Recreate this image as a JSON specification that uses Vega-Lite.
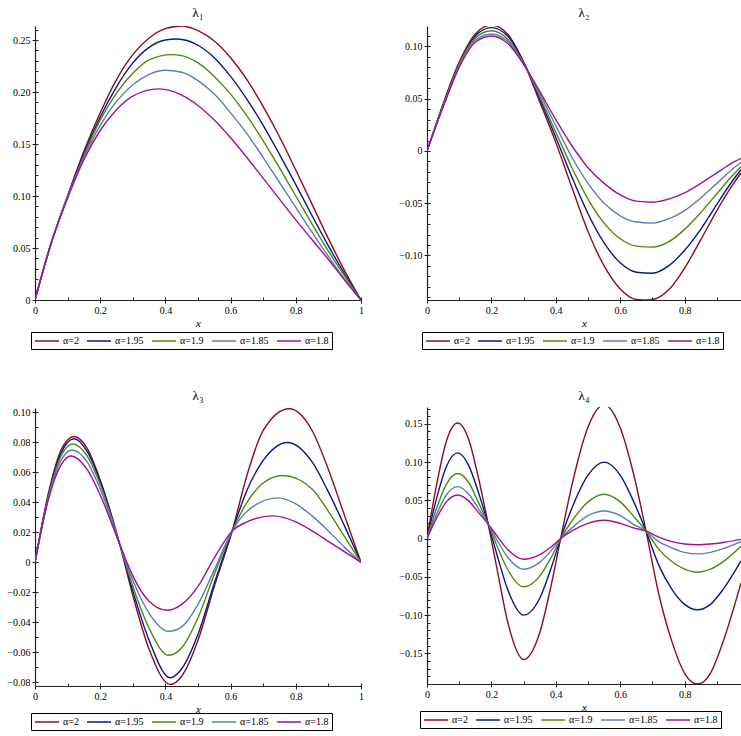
{
  "$schema": "https://vega.github.io/schema/vega-lite/v6.json",
  "padding": {"left": 6, "top": 7, "right": 0, "bottom": 0},
  "background": "white",
  "config": {
    "view": {"stroke": null},
    "font": "Liberation Serif",
    "axis": {"minExtent": 0, "labelFont": "Liberation Serif", "labelFontSize": 10, "labelColor": "black", "domainColor": "#222", "tickColor": "#222", "grid": false, "titleFont": "Liberation Serif", "titleColor": "black"},
    "axisX": {"minExtent": 0},
    "axisY": {"minExtent": 0},
    "title": {"font": "Liberation Serif", "fontSize": 13, "fontWeight": "normal", "color": "black", "offset": 6},
    "legend": {"orient": "none", "direction": "horizontal", "columns": 5, "title": null, "symbolType": "M-1,0H3.8", "symbolSize": 100, "symbolStrokeWidth": 1.5, "labelFont": "Liberation Serif", "labelFontSize": 10, "labelColor": "black", "strokeColor": "black", "fillColor": "white", "padding": 3, "columnPadding": 5, "labelOffset": 17}
  },
  "datasets": {
    "p1": [
      {"a":"2","x":0,"y":0},{"a":"2","x":0.05,"y":0.055},{"a":"2","x":0.1,"y":0.1},{"a":"2","x":0.15,"y":0.143},{"a":"2","x":0.2,"y":0.18},{"a":"2","x":0.25,"y":0.212},{"a":"2","x":0.3,"y":0.236},{"a":"2","x":0.35,"y":0.252},{"a":"2","x":0.4,"y":0.261},{"a":"2","x":0.45,"y":0.2635},{"a":"2","x":0.5,"y":0.259},{"a":"2","x":0.55,"y":0.249},{"a":"2","x":0.6,"y":0.233},{"a":"2","x":0.65,"y":0.212},{"a":"2","x":0.7,"y":0.186},{"a":"2","x":0.75,"y":0.157},{"a":"2","x":0.8,"y":0.125},{"a":"2","x":0.85,"y":0.092},{"a":"2","x":0.9,"y":0.059},{"a":"2","x":0.95,"y":0.028},{"a":"2","x":1,"y":0},
      {"a":"1.95","x":0,"y":0},{"a":"1.95","x":0.05,"y":0.055},{"a":"1.95","x":0.1,"y":0.1},{"a":"1.95","x":0.15,"y":0.141},{"a":"1.95","x":0.2,"y":0.176},{"a":"1.95","x":0.25,"y":0.205},{"a":"1.95","x":0.3,"y":0.228},{"a":"1.95","x":0.35,"y":0.243},{"a":"1.95","x":0.4,"y":0.25},{"a":"1.95","x":0.435,"y":0.251},{"a":"1.95","x":0.5,"y":0.245},{"a":"1.95","x":0.55,"y":0.233},{"a":"1.95","x":0.6,"y":0.215},{"a":"1.95","x":0.65,"y":0.193},{"a":"1.95","x":0.7,"y":0.168},{"a":"1.95","x":0.75,"y":0.14},{"a":"1.95","x":0.8,"y":0.111},{"a":"1.95","x":0.85,"y":0.081},{"a":"1.95","x":0.9,"y":0.052},{"a":"1.95","x":0.95,"y":0.025},{"a":"1.95","x":1,"y":0},
      {"a":"1.9","x":0,"y":0},{"a":"1.9","x":0.05,"y":0.055},{"a":"1.9","x":0.1,"y":0.099},{"a":"1.9","x":0.15,"y":0.139},{"a":"1.9","x":0.2,"y":0.173},{"a":"1.9","x":0.25,"y":0.199},{"a":"1.9","x":0.3,"y":0.218},{"a":"1.9","x":0.35,"y":0.231},{"a":"1.9","x":0.42,"y":0.236},{"a":"1.9","x":0.45,"y":0.235},{"a":"1.9","x":0.5,"y":0.228},{"a":"1.9","x":0.55,"y":0.215},{"a":"1.9","x":0.6,"y":0.198},{"a":"1.9","x":0.65,"y":0.177},{"a":"1.9","x":0.7,"y":0.153},{"a":"1.9","x":0.75,"y":0.127},{"a":"1.9","x":0.8,"y":0.1},{"a":"1.9","x":0.85,"y":0.073},{"a":"1.9","x":0.9,"y":0.047},{"a":"1.9","x":0.95,"y":0.023},{"a":"1.9","x":1,"y":0},
      {"a":"1.85","x":0,"y":0},{"a":"1.85","x":0.05,"y":0.055},{"a":"1.85","x":0.1,"y":0.099},{"a":"1.85","x":0.15,"y":0.137},{"a":"1.85","x":0.2,"y":0.168},{"a":"1.85","x":0.25,"y":0.191},{"a":"1.85","x":0.3,"y":0.207},{"a":"1.85","x":0.35,"y":0.217},{"a":"1.85","x":0.4,"y":0.221},{"a":"1.85","x":0.45,"y":0.219},{"a":"1.85","x":0.5,"y":0.211},{"a":"1.85","x":0.55,"y":0.198},{"a":"1.85","x":0.6,"y":0.18},{"a":"1.85","x":0.65,"y":0.16},{"a":"1.85","x":0.7,"y":0.137},{"a":"1.85","x":0.75,"y":0.113},{"a":"1.85","x":0.8,"y":0.089},{"a":"1.85","x":0.85,"y":0.065},{"a":"1.85","x":0.9,"y":0.042},{"a":"1.85","x":0.95,"y":0.02},{"a":"1.85","x":1,"y":0},
      {"a":"1.8","x":0,"y":0},{"a":"1.8","x":0.05,"y":0.055},{"a":"1.8","x":0.1,"y":0.098},{"a":"1.8","x":0.15,"y":0.135},{"a":"1.8","x":0.2,"y":0.163},{"a":"1.8","x":0.25,"y":0.183},{"a":"1.8","x":0.3,"y":0.196},{"a":"1.8","x":0.38,"y":0.203},{"a":"1.8","x":0.45,"y":0.197},{"a":"1.8","x":0.5,"y":0.187},{"a":"1.8","x":0.55,"y":0.173},{"a":"1.8","x":0.6,"y":0.156},{"a":"1.8","x":0.65,"y":0.137},{"a":"1.8","x":0.7,"y":0.117},{"a":"1.8","x":0.75,"y":0.097},{"a":"1.8","x":0.8,"y":0.077},{"a":"1.8","x":0.85,"y":0.058},{"a":"1.8","x":0.9,"y":0.039},{"a":"1.8","x":0.95,"y":0.019},{"a":"1.8","x":1,"y":0}
    ],
    "p2": [
      {"a":"2","x":0,"y":0},{"a":"2","x":0.05,"y":0.045},{"a":"2","x":0.1,"y":0.085},{"a":"2","x":0.15,"y":0.112},{"a":"2","x":0.2,"y":0.1205},{"a":"2","x":0.25,"y":0.112},{"a":"2","x":0.3,"y":0.085},{"a":"2","x":0.35,"y":0.047},{"a":"2","x":0.4,"y":0.008},{"a":"2","x":0.45,"y":-0.035},{"a":"2","x":0.5,"y":-0.077},{"a":"2","x":0.55,"y":-0.11},{"a":"2","x":0.6,"y":-0.132},{"a":"2","x":0.65,"y":-0.142},{"a":"2","x":0.69,"y":-0.1425},{"a":"2","x":0.75,"y":-0.133},{"a":"2","x":0.8,"y":-0.112},{"a":"2","x":0.85,"y":-0.085},{"a":"2","x":0.9,"y":-0.057},{"a":"2","x":0.95,"y":-0.032},{"a":"2","x":0.975,"y":-0.021},
      {"a":"1.95","x":0,"y":0},{"a":"1.95","x":0.05,"y":0.044},{"a":"1.95","x":0.1,"y":0.084},{"a":"1.95","x":0.15,"y":0.11},{"a":"1.95","x":0.2,"y":0.118},{"a":"1.95","x":0.25,"y":0.11},{"a":"1.95","x":0.3,"y":0.085},{"a":"1.95","x":0.35,"y":0.05},{"a":"1.95","x":0.4,"y":0.013},{"a":"1.95","x":0.45,"y":-0.025},{"a":"1.95","x":0.5,"y":-0.06},{"a":"1.95","x":0.55,"y":-0.088},{"a":"1.95","x":0.6,"y":-0.107},{"a":"1.95","x":0.65,"y":-0.116},{"a":"1.95","x":0.7,"y":-0.117},{"a":"1.95","x":0.75,"y":-0.11},{"a":"1.95","x":0.8,"y":-0.095},{"a":"1.95","x":0.85,"y":-0.075},{"a":"1.95","x":0.9,"y":-0.051},{"a":"1.95","x":0.95,"y":-0.028},{"a":"1.95","x":0.975,"y":-0.018},
      {"a":"1.9","x":0,"y":0},{"a":"1.9","x":0.05,"y":0.043},{"a":"1.9","x":0.1,"y":0.083},{"a":"1.9","x":0.15,"y":0.108},{"a":"1.9","x":0.2,"y":0.115},{"a":"1.9","x":0.25,"y":0.107},{"a":"1.9","x":0.3,"y":0.084},{"a":"1.9","x":0.35,"y":0.052},{"a":"1.9","x":0.4,"y":0.018},{"a":"1.9","x":0.45,"y":-0.016},{"a":"1.9","x":0.5,"y":-0.046},{"a":"1.9","x":0.55,"y":-0.069},{"a":"1.9","x":0.6,"y":-0.084},{"a":"1.9","x":0.65,"y":-0.091},{"a":"1.9","x":0.7,"y":-0.092},{"a":"1.9","x":0.75,"y":-0.087},{"a":"1.9","x":0.8,"y":-0.075},{"a":"1.9","x":0.85,"y":-0.059},{"a":"1.9","x":0.9,"y":-0.041},{"a":"1.9","x":0.95,"y":-0.023},{"a":"1.9","x":0.975,"y":-0.015},
      {"a":"1.85","x":0,"y":0},{"a":"1.85","x":0.05,"y":0.043},{"a":"1.85","x":0.1,"y":0.081},{"a":"1.85","x":0.15,"y":0.106},{"a":"1.85","x":0.2,"y":0.112},{"a":"1.85","x":0.25,"y":0.105},{"a":"1.85","x":0.3,"y":0.083},{"a":"1.85","x":0.35,"y":0.055},{"a":"1.85","x":0.4,"y":0.024},{"a":"1.85","x":0.45,"y":-0.006},{"a":"1.85","x":0.5,"y":-0.031},{"a":"1.85","x":0.55,"y":-0.05},{"a":"1.85","x":0.6,"y":-0.062},{"a":"1.85","x":0.65,"y":-0.068},{"a":"1.85","x":0.7,"y":-0.069},{"a":"1.85","x":0.75,"y":-0.065},{"a":"1.85","x":0.8,"y":-0.057},{"a":"1.85","x":0.85,"y":-0.045},{"a":"1.85","x":0.9,"y":-0.031},{"a":"1.85","x":0.95,"y":-0.017},{"a":"1.85","x":0.975,"y":-0.011},
      {"a":"1.8","x":0,"y":0},{"a":"1.8","x":0.05,"y":0.042},{"a":"1.8","x":0.1,"y":0.08},{"a":"1.8","x":0.15,"y":0.104},{"a":"1.8","x":0.2,"y":0.11},{"a":"1.8","x":0.25,"y":0.103},{"a":"1.8","x":0.3,"y":0.083},{"a":"1.8","x":0.35,"y":0.057},{"a":"1.8","x":0.4,"y":0.03},{"a":"1.8","x":0.45,"y":0.005},{"a":"1.8","x":0.5,"y":-0.016},{"a":"1.8","x":0.55,"y":-0.031},{"a":"1.8","x":0.6,"y":-0.042},{"a":"1.8","x":0.65,"y":-0.048},{"a":"1.8","x":0.7,"y":-0.049},{"a":"1.8","x":0.75,"y":-0.046},{"a":"1.8","x":0.8,"y":-0.04},{"a":"1.8","x":0.85,"y":-0.031},{"a":"1.8","x":0.9,"y":-0.021},{"a":"1.8","x":0.95,"y":-0.011},{"a":"1.8","x":0.975,"y":-0.007}
    ],
    "p3": [
      {"a":"2","x":0,"y":0},{"a":"2","x":0.04,"y":0.045},{"a":"2","x":0.08,"y":0.075},{"a":"2","x":0.12,"y":0.084},{"a":"2","x":0.16,"y":0.076},{"a":"2","x":0.2,"y":0.055},{"a":"2","x":0.26,"y":0.012},{"a":"2","x":0.3,"y":-0.022},{"a":"2","x":0.35,"y":-0.058},{"a":"2","x":0.415,"y":-0.0815},{"a":"2","x":0.45,"y":-0.076},{"a":"2","x":0.5,"y":-0.052},{"a":"2","x":0.55,"y":-0.016},{"a":"2","x":0.605,"y":0.021},{"a":"2","x":0.65,"y":0.058},{"a":"2","x":0.7,"y":0.088},{"a":"2","x":0.78,"y":0.1025},{"a":"2","x":0.85,"y":0.088},{"a":"2","x":0.9,"y":0.062},{"a":"2","x":0.95,"y":0.031},{"a":"2","x":1,"y":0},
      {"a":"1.95","x":0,"y":0},{"a":"1.95","x":0.04,"y":0.044},{"a":"1.95","x":0.08,"y":0.073},{"a":"1.95","x":0.12,"y":0.0825},{"a":"1.95","x":0.16,"y":0.074},{"a":"1.95","x":0.2,"y":0.054},{"a":"1.95","x":0.26,"y":0.012},{"a":"1.95","x":0.3,"y":-0.019},{"a":"1.95","x":0.35,"y":-0.052},{"a":"1.95","x":0.415,"y":-0.077},{"a":"1.95","x":0.45,"y":-0.071},{"a":"1.95","x":0.5,"y":-0.048},{"a":"1.95","x":0.55,"y":-0.014},{"a":"1.95","x":0.605,"y":0.021},{"a":"1.95","x":0.65,"y":0.048},{"a":"1.95","x":0.7,"y":0.068},{"a":"1.95","x":0.775,"y":0.08},{"a":"1.95","x":0.85,"y":0.067},{"a":"1.95","x":0.9,"y":0.047},{"a":"1.95","x":0.95,"y":0.024},{"a":"1.95","x":1,"y":0},
      {"a":"1.9","x":0,"y":0},{"a":"1.9","x":0.04,"y":0.043},{"a":"1.9","x":0.08,"y":0.071},{"a":"1.9","x":0.115,"y":0.079},{"a":"1.9","x":0.16,"y":0.071},{"a":"1.9","x":0.2,"y":0.052},{"a":"1.9","x":0.26,"y":0.012},{"a":"1.9","x":0.3,"y":-0.016},{"a":"1.9","x":0.35,"y":-0.044},{"a":"1.9","x":0.41,"y":-0.062},{"a":"1.9","x":0.45,"y":-0.057},{"a":"1.9","x":0.5,"y":-0.037},{"a":"1.9","x":0.55,"y":-0.008},{"a":"1.9","x":0.605,"y":0.021},{"a":"1.9","x":0.65,"y":0.04},{"a":"1.9","x":0.7,"y":0.053},{"a":"1.9","x":0.76,"y":0.058},{"a":"1.9","x":0.85,"y":0.049},{"a":"1.9","x":0.9,"y":0.034},{"a":"1.9","x":0.95,"y":0.017},{"a":"1.9","x":1,"y":0},
      {"a":"1.85","x":0,"y":0},{"a":"1.85","x":0.04,"y":0.042},{"a":"1.85","x":0.08,"y":0.068},{"a":"1.85","x":0.113,"y":0.075},{"a":"1.85","x":0.16,"y":0.067},{"a":"1.85","x":0.2,"y":0.049},{"a":"1.85","x":0.26,"y":0.012},{"a":"1.85","x":0.3,"y":-0.012},{"a":"1.85","x":0.35,"y":-0.034},{"a":"1.85","x":0.41,"y":-0.046},{"a":"1.85","x":0.45,"y":-0.043},{"a":"1.85","x":0.5,"y":-0.028},{"a":"1.85","x":0.55,"y":-0.005},{"a":"1.85","x":0.605,"y":0.021},{"a":"1.85","x":0.65,"y":0.034},{"a":"1.85","x":0.745,"y":0.043},{"a":"1.85","x":0.8,"y":0.039},{"a":"1.85","x":0.85,"y":0.031},{"a":"1.85","x":0.9,"y":0.021},{"a":"1.85","x":0.95,"y":0.01},{"a":"1.85","x":1,"y":0},
      {"a":"1.8","x":0,"y":0},{"a":"1.8","x":0.04,"y":0.041},{"a":"1.8","x":0.08,"y":0.065},{"a":"1.8","x":0.11,"y":0.071},{"a":"1.8","x":0.16,"y":0.062},{"a":"1.8","x":0.2,"y":0.045},{"a":"1.8","x":0.26,"y":0.012},{"a":"1.8","x":0.3,"y":-0.009},{"a":"1.8","x":0.35,"y":-0.026},{"a":"1.8","x":0.405,"y":-0.032},{"a":"1.8","x":0.45,"y":-0.028},{"a":"1.8","x":0.5,"y":-0.016},{"a":"1.8","x":0.55,"y":0.003},{"a":"1.8","x":0.605,"y":0.021},{"a":"1.8","x":0.65,"y":0.027},{"a":"1.8","x":0.73,"y":0.031},{"a":"1.8","x":0.8,"y":0.027},{"a":"1.8","x":0.85,"y":0.021},{"a":"1.8","x":0.9,"y":0.014},{"a":"1.8","x":0.95,"y":0.007},{"a":"1.8","x":1,"y":0}
    ],
    "p4": [
      {"a":"2","x":0,"y":0},{"a":"2","x":0.03,"y":0.071},{"a":"2","x":0.06,"y":0.127},{"a":"2","x":0.095,"y":0.151},{"a":"2","x":0.13,"y":0.129},{"a":"2","x":0.16,"y":0.079},{"a":"2","x":0.19,"y":0.019},{"a":"2","x":0.22,"y":-0.045},{"a":"2","x":0.25,"y":-0.108},{"a":"2","x":0.3,"y":-0.158},{"a":"2","x":0.35,"y":-0.123},{"a":"2","x":0.385,"y":-0.062},{"a":"2","x":0.415,"y":0},{"a":"2","x":0.45,"y":0.07},{"a":"2","x":0.5,"y":0.146},{"a":"2","x":0.55,"y":0.175},{"a":"2","x":0.6,"y":0.145},{"a":"2","x":0.64,"y":0.087},{"a":"2","x":0.68,"y":0.01},{"a":"2","x":0.72,"y":-0.073},{"a":"2","x":0.76,"y":-0.134},{"a":"2","x":0.8,"y":-0.176},{"a":"2","x":0.84,"y":-0.19},{"a":"2","x":0.88,"y":-0.176},{"a":"2","x":0.92,"y":-0.134},{"a":"2","x":0.975,"y":-0.058},
      {"a":"1.95","x":0,"y":0},{"a":"1.95","x":0.03,"y":0.053},{"a":"1.95","x":0.06,"y":0.094},{"a":"1.95","x":0.095,"y":0.112},{"a":"1.95","x":0.13,"y":0.095},{"a":"1.95","x":0.16,"y":0.06},{"a":"1.95","x":0.19,"y":0.019},{"a":"1.95","x":0.22,"y":-0.025},{"a":"1.95","x":0.25,"y":-0.066},{"a":"1.95","x":0.3,"y":-0.1},{"a":"1.95","x":0.35,"y":-0.078},{"a":"1.95","x":0.385,"y":-0.039},{"a":"1.95","x":0.415,"y":0},{"a":"1.95","x":0.45,"y":0.04},{"a":"1.95","x":0.5,"y":0.083},{"a":"1.95","x":0.55,"y":0.1},{"a":"1.95","x":0.6,"y":0.083},{"a":"1.95","x":0.64,"y":0.05},{"a":"1.95","x":0.68,"y":0.01},{"a":"1.95","x":0.72,"y":-0.035},{"a":"1.95","x":0.76,"y":-0.066},{"a":"1.95","x":0.8,"y":-0.086},{"a":"1.95","x":0.84,"y":-0.093},{"a":"1.95","x":0.88,"y":-0.086},{"a":"1.95","x":0.92,"y":-0.066},{"a":"1.95","x":0.975,"y":-0.029},
      {"a":"1.9","x":0,"y":0},{"a":"1.9","x":0.03,"y":0.04},{"a":"1.9","x":0.06,"y":0.071},{"a":"1.9","x":0.095,"y":0.085},{"a":"1.9","x":0.13,"y":0.073},{"a":"1.9","x":0.16,"y":0.047},{"a":"1.9","x":0.19,"y":0.019},{"a":"1.9","x":0.22,"y":-0.012},{"a":"1.9","x":0.25,"y":-0.04},{"a":"1.9","x":0.3,"y":-0.063},{"a":"1.9","x":0.35,"y":-0.049},{"a":"1.9","x":0.385,"y":-0.025},{"a":"1.9","x":0.415,"y":0},{"a":"1.9","x":0.45,"y":0.023},{"a":"1.9","x":0.5,"y":0.048},{"a":"1.9","x":0.55,"y":0.058},{"a":"1.9","x":0.6,"y":0.048},{"a":"1.9","x":0.64,"y":0.03},{"a":"1.9","x":0.68,"y":0.01},{"a":"1.9","x":0.72,"y":-0.014},{"a":"1.9","x":0.76,"y":-0.03},{"a":"1.9","x":0.8,"y":-0.04},{"a":"1.9","x":0.84,"y":-0.044},{"a":"1.9","x":0.88,"y":-0.04},{"a":"1.9","x":0.92,"y":-0.03},{"a":"1.9","x":0.975,"y":-0.01},
      {"a":"1.85","x":0,"y":0},{"a":"1.85","x":0.03,"y":0.032},{"a":"1.85","x":0.06,"y":0.057},{"a":"1.85","x":0.095,"y":0.068},{"a":"1.85","x":0.13,"y":0.058},{"a":"1.85","x":0.16,"y":0.039},{"a":"1.85","x":0.19,"y":0.019},{"a":"1.85","x":0.22,"y":-0.004},{"a":"1.85","x":0.25,"y":-0.024},{"a":"1.85","x":0.3,"y":-0.04},{"a":"1.85","x":0.35,"y":-0.031},{"a":"1.85","x":0.385,"y":-0.016},{"a":"1.85","x":0.415,"y":0},{"a":"1.85","x":0.45,"y":0.014},{"a":"1.85","x":0.5,"y":0.03},{"a":"1.85","x":0.55,"y":0.036},{"a":"1.85","x":0.6,"y":0.03},{"a":"1.85","x":0.64,"y":0.019},{"a":"1.85","x":0.68,"y":0.01},{"a":"1.85","x":0.72,"y":-0.004},{"a":"1.85","x":0.76,"y":-0.012},{"a":"1.85","x":0.8,"y":-0.018},{"a":"1.85","x":0.84,"y":-0.02},{"a":"1.85","x":0.88,"y":-0.018},{"a":"1.85","x":0.92,"y":-0.013},{"a":"1.85","x":0.975,"y":-0.004},
      {"a":"1.8","x":0,"y":0},{"a":"1.8","x":0.03,"y":0.027},{"a":"1.8","x":0.06,"y":0.048},{"a":"1.8","x":0.095,"y":0.057},{"a":"1.8","x":0.13,"y":0.049},{"a":"1.8","x":0.16,"y":0.034},{"a":"1.8","x":0.19,"y":0.019},{"a":"1.8","x":0.22,"y":0.002},{"a":"1.8","x":0.25,"y":-0.014},{"a":"1.8","x":0.3,"y":-0.027},{"a":"1.8","x":0.35,"y":-0.021},{"a":"1.8","x":0.385,"y":-0.011},{"a":"1.8","x":0.415,"y":0},{"a":"1.8","x":0.45,"y":0.01},{"a":"1.8","x":0.5,"y":0.02},{"a":"1.8","x":0.55,"y":0.024},{"a":"1.8","x":0.6,"y":0.02},{"a":"1.8","x":0.64,"y":0.014},{"a":"1.8","x":0.68,"y":0.01},{"a":"1.8","x":0.72,"y":0.002},{"a":"1.8","x":0.76,"y":-0.004},{"a":"1.8","x":0.8,"y":-0.007},{"a":"1.8","x":0.84,"y":-0.008},{"a":"1.8","x":0.88,"y":-0.007},{"a":"1.8","x":0.92,"y":-0.005},{"a":"1.8","x":0.975,"y":-0.001}
    ]
  },
  "resolve": {"scale": {"color": "independent"}},
  "columns": 2,
  "align": "none",
  "spacing": {"row": 40, "column": 34},
  "concat": [
    {
      "title": {"text": "λ₁", "offset": 6},
      "width": 326, "height": 274,
      "data": {"name": "p1"},
      "resolve": {"axis": {"x": "independent", "y": "independent"}},
      "layer": [
        {
          "mark": {"type": "line", "strokeWidth": 1.4, "interpolate": "monotone", "clip": true},
          "encoding": {
            "x": {"field": "x", "type": "quantitative", "scale": {"domain": [0, 1], "nice": false, "zero": false},
              "axis": {"minExtent": 0, "title": "x", "titleFontStyle": "italic", "titleFontWeight": "normal", "titleFontSize": 11, "titlePadding": 2, "values": [0, 0.2, 0.4, 0.6, 0.8, 1], "labelExpr": "datum.value == 0 || datum.value == 1 ? format(datum.value, 'd') : format(datum.value, '.1f')", "tickSize": 3, "labelPadding": 2, "domainWidth": 1.2, "labelFlush": false, "labelOverlap": false}},
            "y": {"field": "y", "type": "quantitative", "scale": {"domain": [0, 0.2635], "nice": false, "zero": false},
              "axis": {"minExtent": 0, "title": null, "values": [0, 0.05, 0.1, 0.15, 0.2, 0.25], "labelExpr": "datum.value == 0 ? '0' : format(datum.value, '.2f')", "tickSize": 3, "labelPadding": 2, "domainWidth": 1.2, "labelOverlap": false}},
            "color": {"field": "a", "type": "nominal", "sort": null,
              "scale": {"domain": ["2", "1.95", "1.9", "1.85", "1.8"], "range": ["#8C0C1E", "#0A168C", "#4E8A0C", "#5A7DB4", "#A0109A"]},
              "legend": {"legendX": -4, "legendY": 306, "labelExpr": "'α=' + datum.label"}}
          }
        },
        {
          "mark": {"type": "line", "strokeOpacity": 0, "opacity": 0},
          "encoding": {
            "x": {"field": "x", "type": "quantitative", "axis": {"minExtent": 0, "orient": "bottom", "title": null, "labels": false, "domain": false, "tickSize": -3, "values": [0, 0.1, 0.2, 0.3, 0.4, 0.5, 0.6, 0.7, 0.8, 0.9, 1]}},
            "y": {"field": "y", "type": "quantitative", "axis": {"minExtent": 0, "orient": "left", "title": null, "labels": false, "domain": false, "tickSize": -3, "values": [0, 0.01, 0.02, 0.03, 0.04, 0.05, 0.06, 0.07, 0.08, 0.09, 0.1, 0.11, 0.12, 0.13, 0.14, 0.15, 0.16, 0.17, 0.18, 0.19, 0.2, 0.21, 0.22, 0.23, 0.24, 0.25, 0.26]}}
          }
        }
      ]
    },
    {
      "title": {"text": "λ₂", "offset": 6},
      "width": 314, "height": 274,
      "data": {"name": "p2"},
      "resolve": {"axis": {"x": "independent", "y": "independent"}},
      "layer": [
        {
          "mark": {"type": "line", "strokeWidth": 1.4, "interpolate": "monotone", "clip": true},
          "encoding": {
            "x": {"field": "x", "type": "quantitative", "scale": {"domain": [0, 0.975], "nice": false, "zero": false},
              "axis": {"minExtent": 0, "title": "x", "titleFontStyle": "italic", "titleFontWeight": "normal", "titleFontSize": 11, "titlePadding": 2, "values": [0, 0.2, 0.4, 0.6, 0.8], "labelExpr": "datum.value == 0 || datum.value == 1 ? format(datum.value, 'd') : format(datum.value, '.1f')", "tickSize": 3, "labelPadding": 2, "domainWidth": 1.2, "labelFlush": false, "labelOverlap": false}},
            "y": {"field": "y", "type": "quantitative", "scale": {"domain": [-0.1426, 0.1196], "nice": false, "zero": false},
              "axis": {"minExtent": 0, "title": null, "values": [-0.1, -0.05, 0, 0.05, 0.1], "labelExpr": "datum.value == 0 ? '0' : format(datum.value, '.2f')", "tickSize": 3, "labelPadding": 2, "domainWidth": 1.2, "labelOverlap": false}},
            "color": {"field": "a", "type": "nominal", "sort": null,
              "scale": {"domain": ["2", "1.95", "1.9", "1.85", "1.8"], "range": ["#8C0C1E", "#0A168C", "#4E8A0C", "#5A7DB4", "#A0109A"]},
              "legend": {"legendX": -5, "legendY": 306, "labelExpr": "'α=' + datum.label"}}
          }
        },
        {
          "mark": {"type": "line", "strokeOpacity": 0, "opacity": 0, "clip": true},
          "encoding": {
            "x": {"field": "x", "type": "quantitative", "axis": {"minExtent": 0, "orient": "bottom", "title": null, "labels": false, "domain": false, "tickSize": -3, "values": [0, 0.1, 0.2, 0.3, 0.4, 0.5, 0.6, 0.7, 0.8, 0.9]}},
            "y": {"field": "y", "type": "quantitative", "axis": {"minExtent": 0, "orient": "left", "title": null, "labels": false, "domain": false, "tickSize": -3, "values": [-0.14, -0.13, -0.12, -0.11, -0.1, -0.09, -0.08, -0.07, -0.06, -0.05, -0.04, -0.03, -0.02, -0.01, 0, 0.01, 0.02, 0.03, 0.04, 0.05, 0.06, 0.07, 0.08, 0.09, 0.1, 0.11]}}
          }
        }
      ]
    },
    {
      "title": {"text": "λ₃", "offset": 4},
      "width": 326, "height": 278,
      "data": {"name": "p3"},
      "resolve": {"axis": {"x": "independent", "y": "independent"}},
      "layer": [
        {
          "mark": {"type": "line", "strokeWidth": 1.4, "interpolate": "monotone", "clip": true},
          "encoding": {
            "x": {"field": "x", "type": "quantitative", "scale": {"domain": [0, 1], "nice": false, "zero": false},
              "axis": {"minExtent": 0, "title": "x", "titleFontStyle": "italic", "titleFontWeight": "normal", "titleFontSize": 11, "titlePadding": 2, "values": [0, 0.2, 0.4, 0.6, 0.8, 1], "labelExpr": "datum.value == 0 || datum.value == 1 ? format(datum.value, 'd') : format(datum.value, '.1f')", "tickSize": 3, "labelPadding": 2, "domainWidth": 1.2, "labelFlush": false, "labelOverlap": false}},
            "y": {"field": "y", "type": "quantitative", "scale": {"domain": [-0.0825, 0.103], "nice": false, "zero": false},
              "axis": {"minExtent": 0, "title": null, "values": [-0.08, -0.06, -0.04, -0.02, 0, 0.02, 0.04, 0.06, 0.08, 0.1], "labelExpr": "datum.value == 0 ? '0' : format(datum.value, '.2f')", "tickSize": 3, "labelPadding": 2, "domainWidth": 1.2, "labelOverlap": false}},
            "color": {"field": "a", "type": "nominal", "sort": null,
              "scale": {"domain": ["2", "1.95", "1.9", "1.85", "1.8"], "range": ["#8C0C1E", "#0A168C", "#4E8A0C", "#5A7DB4", "#A0109A"]},
              "legend": {"legendX": -4, "legendY": 305, "labelExpr": "'α=' + datum.label"}}
          }
        },
        {
          "mark": {"type": "line", "strokeOpacity": 0, "opacity": 0},
          "encoding": {
            "x": {"field": "x", "type": "quantitative", "axis": {"minExtent": 0, "orient": "bottom", "title": null, "labels": false, "domain": false, "tickSize": -3, "values": [0, 0.1, 0.2, 0.3, 0.4, 0.5, 0.6, 0.7, 0.8, 0.9, 1]}},
            "y": {"field": "y", "type": "quantitative", "axis": {"minExtent": 0, "orient": "left", "title": null, "labels": false, "domain": false, "tickSize": -3, "values": [-0.08, -0.07, -0.06, -0.05, -0.04, -0.03, -0.02, -0.01, 0, 0.01, 0.02, 0.03, 0.04, 0.05, 0.06, 0.07, 0.08, 0.09, 0.1]}}
          }
        }
      ]
    },
    {
      "title": {"text": "λ₄", "offset": 4},
      "width": 314, "height": 277,
      "data": {"name": "p4"},
      "resolve": {"axis": {"x": "independent", "y": "independent"}},
      "layer": [
        {
          "mark": {"type": "line", "strokeWidth": 1.4, "interpolate": "monotone", "clip": true},
          "encoding": {
            "x": {"field": "x", "type": "quantitative", "scale": {"domain": [0, 0.975], "nice": false, "zero": false},
              "axis": {"minExtent": 0, "title": "x", "titleFontStyle": "italic", "titleFontWeight": "normal", "titleFontSize": 11, "titlePadding": 2, "values": [0, 0.2, 0.4, 0.6, 0.8], "labelExpr": "datum.value == 0 || datum.value == 1 ? format(datum.value, 'd') : format(datum.value, '.1f')", "tickSize": 3, "labelPadding": 2, "domainWidth": 1.2, "labelFlush": false, "labelOverlap": false}},
            "y": {"field": "y", "type": "quantitative", "scale": {"domain": [-0.19, 0.172], "nice": false, "zero": false},
              "axis": {"minExtent": 0, "title": null, "values": [-0.15, -0.1, -0.05, 0, 0.05, 0.1, 0.15], "labelExpr": "datum.value == 0 ? '0' : format(datum.value, '.2f')", "tickSize": 3, "labelPadding": 2, "domainWidth": 1.2, "labelOverlap": false}},
            "color": {"field": "a", "type": "nominal", "sort": null,
              "scale": {"domain": ["2", "1.95", "1.9", "1.85", "1.8"], "range": ["#8C0C1E", "#0A168C", "#4E8A0C", "#5A7DB4", "#A0109A"]},
              "legend": {"legendX": -7, "legendY": 304, "labelExpr": "'α=' + datum.label"}}
          }
        },
        {
          "mark": {"type": "line", "strokeOpacity": 0, "opacity": 0, "clip": true},
          "encoding": {
            "x": {"field": "x", "type": "quantitative", "axis": {"minExtent": 0, "orient": "bottom", "title": null, "labels": false, "domain": false, "tickSize": -3, "values": [0, 0.1, 0.2, 0.3, 0.4, 0.5, 0.6, 0.7, 0.8, 0.9]}},
            "y": {"field": "y", "type": "quantitative", "axis": {"minExtent": 0, "orient": "left", "title": null, "labels": false, "domain": false, "tickSize": -3, "values": [-0.19, -0.18, -0.17, -0.16, -0.15, -0.14, -0.13, -0.12, -0.11, -0.1, -0.09, -0.08, -0.07, -0.06, -0.05, -0.04, -0.03, -0.02, -0.01, 0, 0.01, 0.02, 0.03, 0.04, 0.05, 0.06, 0.07, 0.08, 0.09, 0.1, 0.11, 0.12, 0.13, 0.14, 0.15, 0.16, 0.17]}}
          }
        }
      ]
    }
  ]
}
